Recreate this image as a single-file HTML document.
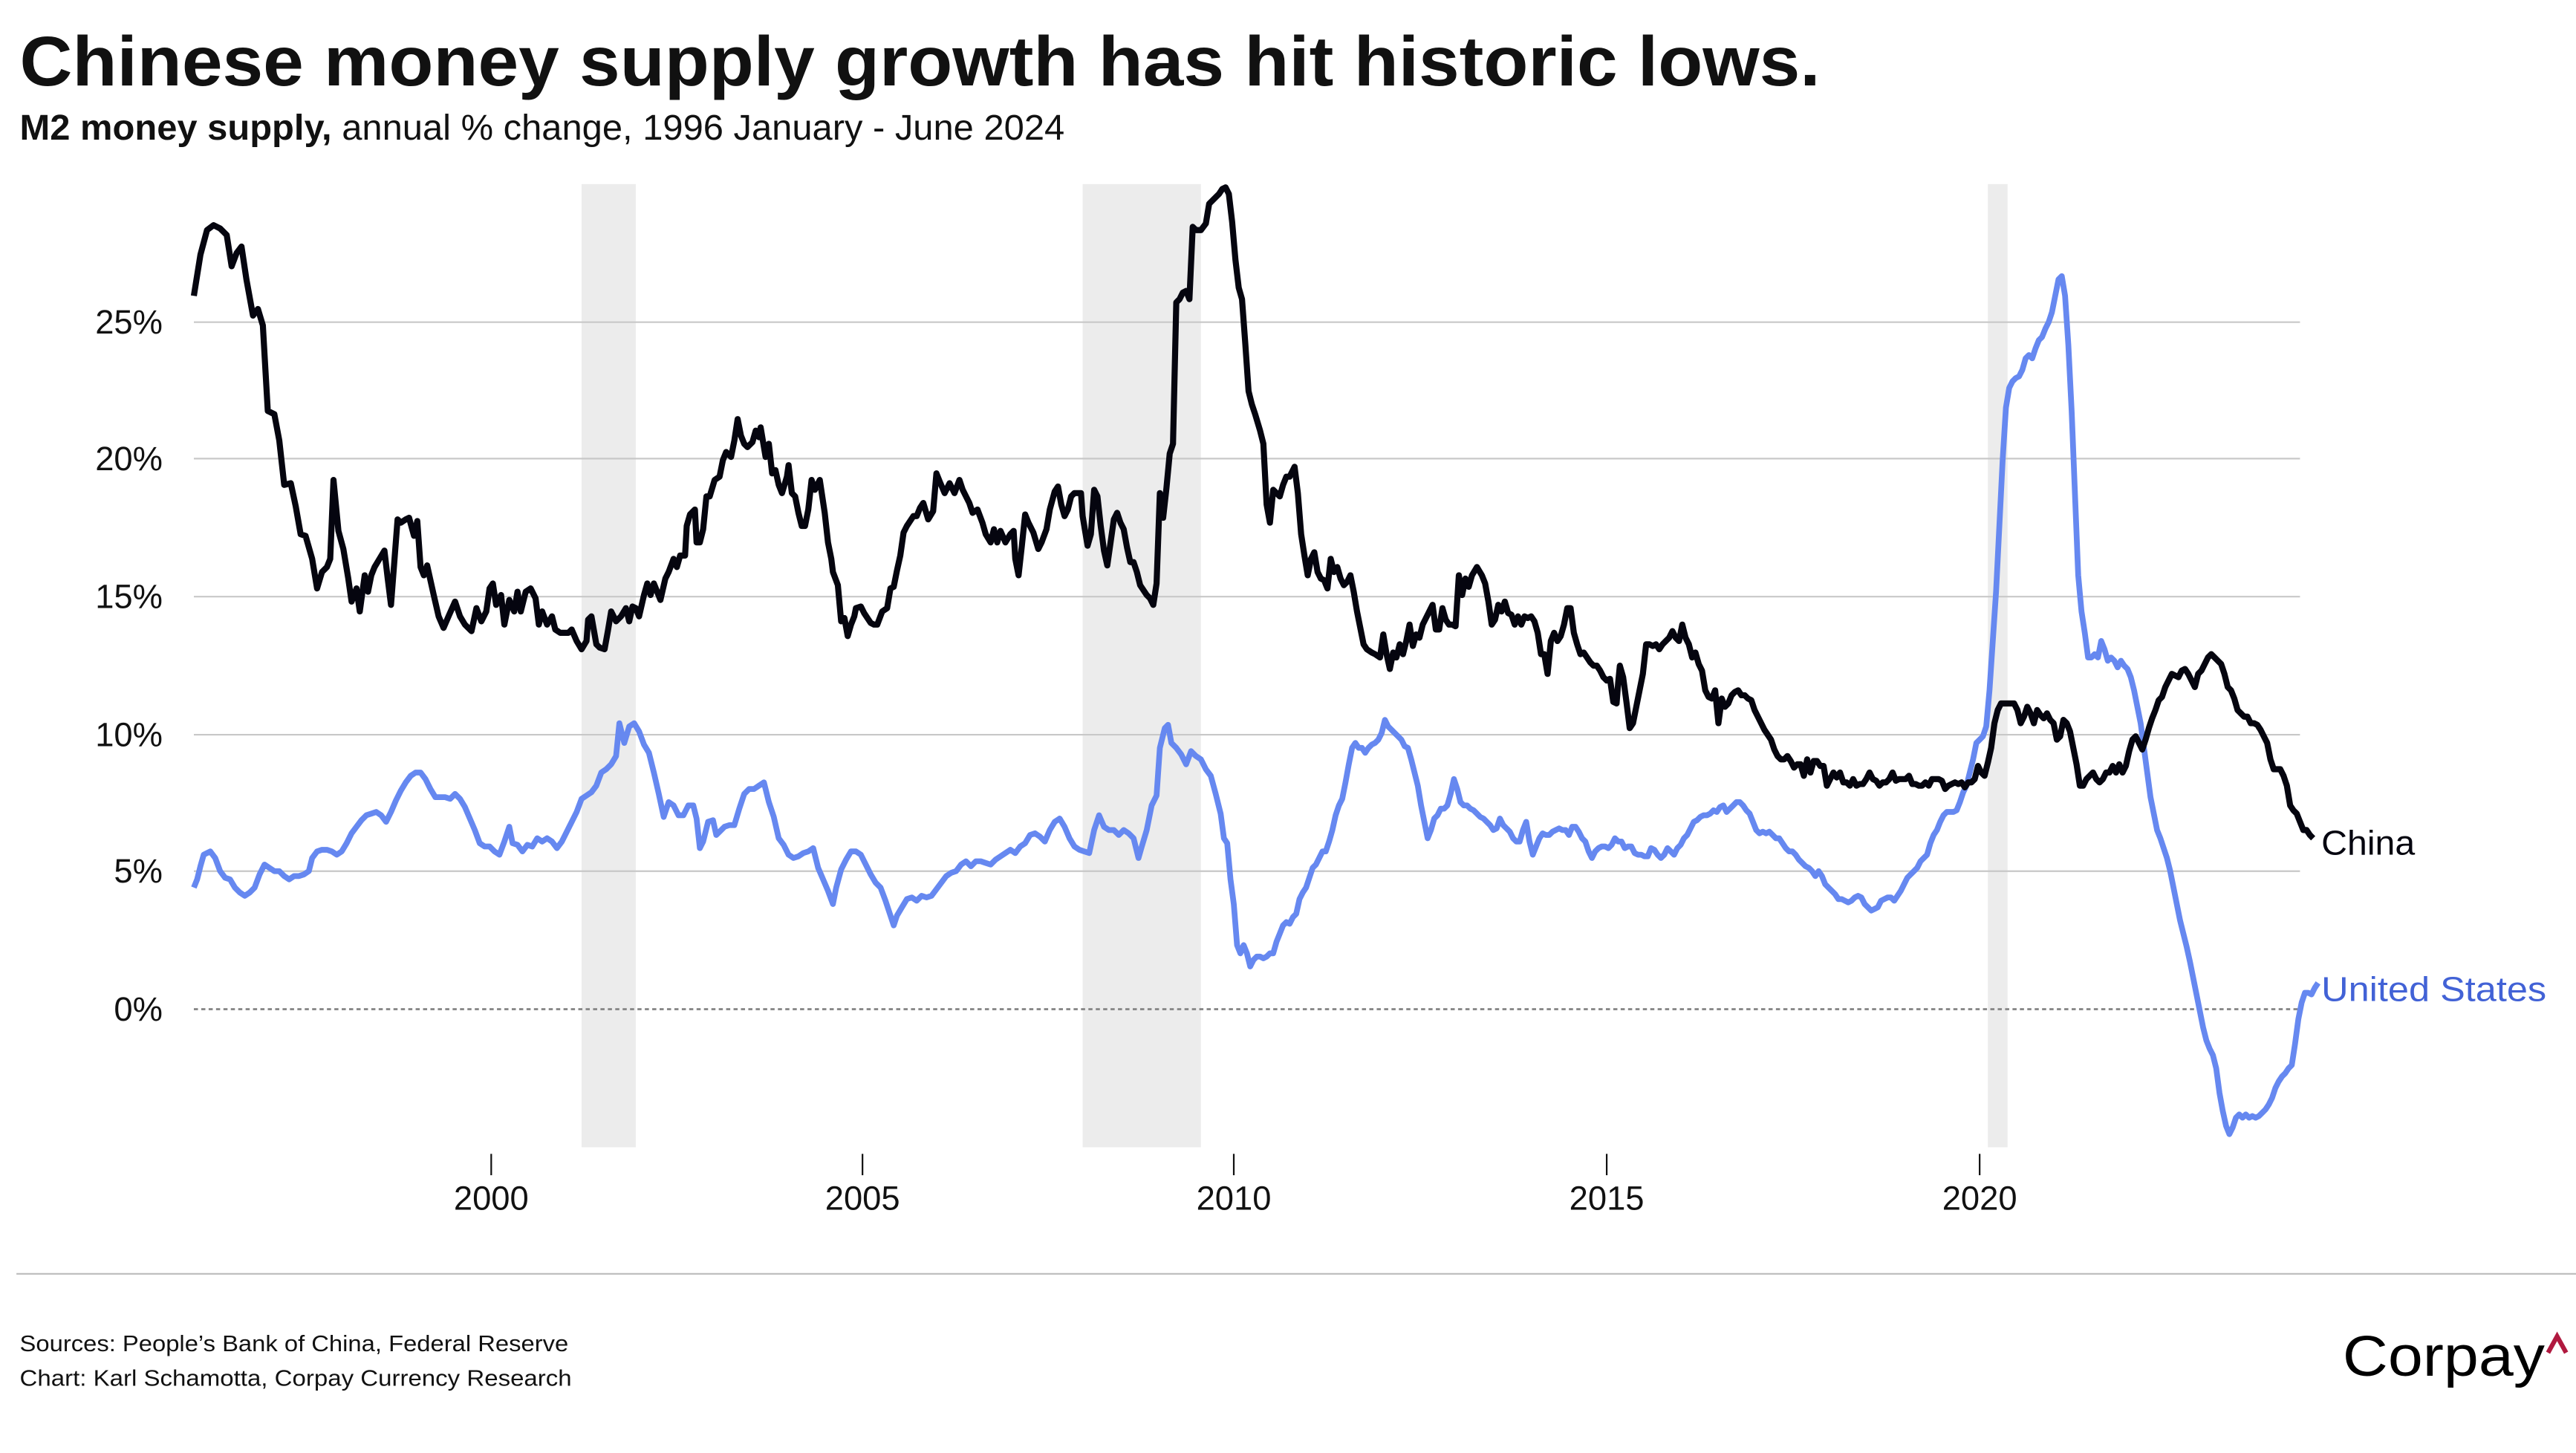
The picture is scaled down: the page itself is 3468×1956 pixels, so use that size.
<!DOCTYPE html>
<html><head><meta charset="utf-8"><style>
html,body{margin:0;padding:0;background:#fff;}
svg{display:block;}
text{font-family:"Liberation Sans",sans-serif;}
</style></head><body>
<svg width="3468" height="1956" viewBox="0 0 1568 884" preserveAspectRatio="none" xmlns="http://www.w3.org/2000/svg">
<rect width="1568" height="884" fill="#fff"/>
<text x="12" y="52" font-size="43" font-weight="bold" fill="#111" textLength="1096" lengthAdjust="spacingAndGlyphs">Chinese money supply growth has hit historic lows.</text>
<text x="12" y="85" font-size="22" fill="#111" textLength="636" lengthAdjust="spacingAndGlyphs"><tspan font-weight="bold">M2 money supply,</tspan> annual % change, 1996 January - June 2024</text>
<rect x="354" y="112" width="33" height="586" fill="#ececec"/>
<rect x="659" y="112" width="72" height="586" fill="#ececec"/>
<rect x="1210" y="112" width="12" height="586" fill="#ececec"/>
<g stroke="#c8c8c8" stroke-width="1">
<line x1="118" y1="196" x2="1400" y2="196"/>
<line x1="118" y1="279" x2="1400" y2="279"/>
<line x1="118" y1="363" x2="1400" y2="363"/>
<line x1="118" y1="447" x2="1400" y2="447"/>
<line x1="118" y1="530" x2="1400" y2="530"/>
</g>
<line x1="118" y1="614" x2="1400" y2="614" stroke="#888" stroke-width="1.3" stroke-dasharray="2.5,2"/>
<g font-size="20.5" fill="#111" text-anchor="end">
<text x="99" y="203">25%</text><text x="99" y="286">20%</text><text x="99" y="370">15%</text>
<text x="99" y="454">10%</text><text x="99" y="537">5%</text><text x="99" y="621">0%</text>
</g>
<g stroke="#111" stroke-width="1">
<line x1="299" y1="702" x2="299" y2="715"/><line x1="525" y1="702" x2="525" y2="715"/>
<line x1="751" y1="702" x2="751" y2="715"/><line x1="978" y1="702" x2="978" y2="715"/>
<line x1="1205" y1="702" x2="1205" y2="715"/>
</g>
<g font-size="20.5" fill="#111" text-anchor="middle">
<text x="299" y="736">2000</text><text x="525" y="736">2005</text><text x="751" y="736">2010</text>
<text x="978" y="736">2015</text><text x="1205" y="736">2020</text>
</g>
<polyline fill="none" stroke="#6688f0" stroke-width="3.5" stroke-linejoin="round" points="118,540 120,535 122,527 124,520 128,518 131,522 134,530 137,534 140,535 143,540 146,543 149,545 152,543 155,540 158,532 161,526 164,528 167,530 170,530 173,533 176,535 179,533 182,533 185,532 188,530 190,522 193,518 196,517 199,517 202,518 205,520 208,518 211,513 214,507 217,503 220,499 223,496 226,495 229,494 232,496 235,500 238,494 241,487 244,481 247,476 250,472 253,470 256,470 259,474 262,480 265,485 268,485 271,485 274,486 277,483 280,486 283,491 286,498 289,505 292,513 295,515 298,515 301,518 304,520 307,512 310,503 312,513 315,514 318,518 321,514 324,515 327,510 330,512 333,510 336,512 339,516 342,512 345,506 348,500 351,494 354,486 357,484 360,482 363,478 366,470 369,468 372,465 375,460 377,440 380,452 383,442 386,440 389,445 392,453 395,458 398,470 401,483 404,497 407,488 410,490 413,496 416,496 419,490 422,490 424,498 426,516 428,512 431,500 434,499 436,508 438,506 441,503 444,502 447,502 450,492 453,483 456,480 459,480 462,478 465,476 468,488 471,497 474,510 477,514 480,520 483,522 486,521 489,519 492,518 495,516 498,528 501,535 504,542 507,550 509,540 512,529 515,523 518,518 521,518 524,520 527,526 530,532 533,537 536,540 539,548 542,557 544,563 546,557 549,552 552,547 555,546 558,548 561,545 564,546 567,545 570,541 573,537 576,533 579,531 582,530 585,526 588,524 591,527 594,524 597,524 600,525 603,526 606,523 609,521 612,519 615,517 618,519 621,515 624,513 627,508 630,507 633,509 636,512 639,505 642,500 645,498 648,503 651,510 654,515 657,517 660,518 663,519 666,505 669,496 672,503 675,505 678,505 681,508 684,505 687,507 690,510 693,522 695,515 698,505 701,490 704,484 706,455 709,443 711,441 713,452 716,455 719,459 722,465 725,457 728,460 731,462 734,468 737,472 740,483 743,495 745,510 747,513 749,535 751,550 753,575 755,580 757,575 759,580 761,588 763,584 765,582 767,582 769,583 771,582 773,580 775,580 777,573 779,568 781,563 783,561 785,562 787,558 789,556 791,547 793,543 795,540 797,534 799,528 801,526 803,522 805,518 807,518 809,512 811,505 813,496 815,490 817,486 819,476 821,465 823,455 825,452 827,455 829,455 831,458 833,455 835,453 837,452 839,450 841,446 843,438 845,442 847,444 849,446 851,448 853,450 855,454 857,455 859,462 861,470 863,478 865,490 867,500 869,510 871,505 873,498 875,496 877,492 879,492 881,490 883,483 885,474 887,480 889,488 891,490 893,490 895,492 897,493 899,495 901,497 903,498 905,500 907,502 909,505 911,504 913,498 915,502 917,504 919,506 921,510 923,512 925,512 927,505 929,500 931,512 933,520 935,515 937,510 939,507 941,508 943,508 945,506 947,505 949,504 951,505 953,505 955,508 957,503 959,503 961,506 963,510 965,512 967,518 969,522 971,518 973,516 975,515 977,515 979,516 981,514 983,510 985,512 987,512 989,516 991,515 993,515 995,519 997,520 999,520 1001,521 1003,521 1005,516 1007,517 1009,520 1011,522 1013,520 1015,516 1017,518 1019,520 1021,516 1023,514 1025,510 1027,508 1029,504 1031,500 1033,499 1035,497 1037,496 1039,496 1041,495 1043,493 1045,494 1047,491 1049,490 1051,494 1053,492 1055,490 1057,488 1059,488 1061,490 1063,493 1065,495 1067,500 1069,505 1071,507 1073,506 1075,507 1077,506 1079,508 1081,510 1083,510 1085,513 1087,516 1089,518 1091,518 1093,520 1095,523 1097,525 1099,527 1101,528 1103,530 1105,533 1107,530 1109,533 1111,538 1113,540 1115,542 1117,544 1119,547 1121,547 1123,548 1125,549 1127,548 1129,546 1131,545 1133,546 1135,550 1137,552 1139,554 1141,553 1143,552 1145,548 1147,547 1149,546 1151,546 1153,548 1155,545 1157,542 1159,538 1161,534 1163,532 1165,530 1167,528 1169,524 1171,522 1173,520 1175,513 1177,508 1179,505 1181,500 1183,496 1185,494 1187,494 1189,494 1191,493 1193,488 1195,482 1197,478 1199,470 1201,462 1203,452 1205,450 1207,448 1209,442 1211,420 1213,390 1215,360 1217,320 1219,280 1221,248 1223,236 1225,232 1227,230 1229,229 1231,225 1233,218 1235,216 1237,218 1239,212 1241,207 1243,205 1245,200 1247,196 1249,190 1251,180 1253,170 1255,168 1257,180 1259,210 1261,250 1263,300 1265,350 1267,372 1269,385 1271,400 1273,400 1275,398 1277,400 1279,390 1281,395 1283,402 1285,400 1287,402 1289,406 1291,402 1293,405 1295,407 1297,412 1299,420 1301,430 1303,440 1305,455 1307,470 1309,485 1311,495 1313,505 1315,510 1317,516 1319,522 1321,530 1323,540 1325,550 1327,560 1329,568 1331,576 1333,585 1335,595 1337,605 1339,615 1341,625 1343,633 1345,638 1347,642 1349,650 1351,665 1353,676 1355,685 1357,690 1359,686 1361,680 1363,678 1365,680 1367,678 1369,680 1371,679 1373,680 1375,679 1377,677 1379,675 1381,672 1383,668 1385,662 1387,658 1389,655 1391,653 1393,650 1395,648 1397,635 1399,620 1401,610 1403,604 1405,604 1407,605 1409,601 1411,598"/>
<polyline fill="none" stroke="#05050f" stroke-width="3.7" stroke-linejoin="round" points="118,180 122,155 126,140 130,137 134,139 138,143 141,162 144,154 147,150 150,170 154,192 157,188 160,198 163,250 167,252 170,268 173,295 177,294 180,308 183,325 186,326 190,340 193,358 196,348 199,345 201,340 203,292 206,323 209,334 212,352 214,366 217,358 219,372 222,350 224,360 226,350 228,345 231,340 234,335 236,352 238,368 240,342 242,316 244,318 247,316 249,315 252,326 254,317 256,345 258,350 260,344 264,362 267,375 270,382 273,375 277,366 280,375 283,380 287,384 290,370 293,378 296,372 298,358 300,355 302,368 305,362 307,380 310,365 313,372 315,360 317,372 320,360 323,358 326,364 328,380 330,372 333,380 336,375 338,383 341,385 344,385 346,385 348,383 351,390 354,395 357,390 358,377 360,375 363,392 365,394 368,395 370,384 372,372 375,378 378,375 381,370 383,378 385,369 387,370 389,375 392,362 394,355 396,362 398,355 400,360 402,365 405,352 407,348 410,340 412,345 414,338 417,338 418,320 420,313 423,310 424,330 426,330 428,322 430,302 432,302 435,292 438,290 440,280 442,275 445,278 447,268 449,255 451,265 453,270 455,272 458,269 460,262 462,266 463,260 466,278 468,270 470,288 472,286 474,295 476,300 479,290 480,283 482,300 484,302 486,312 488,320 490,320 492,310 494,292 496,298 499,292 502,312 504,330 506,340 507,348 510,356 512,378 514,376 516,387 518,380 520,375 521,370 524,369 526,373 528,376 530,379 532,380 534,380 537,372 540,370 542,358 544,357 546,347 548,338 550,324 552,320 554,317 556,314 558,314 560,309 562,306 565,316 568,311 570,288 572,293 575,300 578,294 581,300 584,292 586,298 590,306 592,312 595,310 598,318 600,325 603,330 605,322 607,330 609,323 612,330 615,325 617,323 618,340 620,350 622,332 624,313 626,318 629,324 632,334 634,330 637,322 639,310 642,299 644,296 646,307 648,314 650,310 652,302 654,300 658,300 659,314 662,332 664,325 666,298 668,302 670,320 672,335 674,344 676,330 678,316 680,312 682,318 684,322 686,333 688,342 690,342 692,348 694,356 698,362 700,364 702,368 704,355 706,300 708,315 710,297 712,276 714,270 716,184 718,182 720,178 722,177 724,182 726,138 728,140 731,140 734,136 736,124 740,120 742,118 744,115 746,114 748,118 750,135 752,158 754,175 756,182 758,209 760,238 762,246 764,252 767,262 769,270 771,307 773,318 775,298 777,300 779,302 781,295 783,290 785,290 788,284 790,300 792,325 794,338 796,350 798,340 800,336 802,348 804,352 806,353 808,358 810,340 812,348 814,345 816,352 818,356 820,354 822,350 824,360 826,372 828,382 830,392 832,395 835,397 837,398 840,400 842,386 844,398 846,407 848,397 850,400 852,392 854,398 856,390 858,380 860,393 862,386 864,388 866,380 868,376 870,372 872,368 874,383 876,383 878,370 880,377 882,380 884,380 886,381 888,350 890,362 892,352 894,357 896,350 899,345 902,350 904,355 906,366 908,380 910,377 912,368 914,372 916,366 918,373 920,374 922,380 924,375 926,380 928,375 930,376 932,375 934,378 936,385 938,398 940,398 942,410 944,390 946,385 948,390 950,387 952,380 954,370 956,370 958,385 960,392 962,398 964,397 966,400 968,403 970,405 972,405 974,408 976,412 978,414 980,413 982,427 984,428 985,415 986,405 988,412 990,427 992,443 994,440 996,430 998,420 1000,410 1002,392 1004,392 1006,393 1008,392 1010,395 1012,392 1014,390 1016,388 1018,384 1020,388 1022,390 1024,380 1026,388 1028,392 1030,400 1032,397 1034,404 1036,408 1038,420 1040,424 1042,425 1044,420 1046,440 1048,425 1050,430 1052,428 1054,423 1056,421 1058,420 1060,423 1062,423 1064,425 1066,426 1068,432 1070,436 1072,440 1074,444 1076,447 1078,450 1080,456 1082,460 1084,462 1086,462 1088,460 1090,463 1092,467 1094,465 1096,465 1098,472 1100,462 1102,470 1104,463 1106,463 1108,466 1110,466 1112,478 1114,474 1116,470 1118,473 1120,470 1122,476 1124,476 1126,478 1128,474 1130,478 1132,477 1134,477 1136,474 1138,470 1140,474 1142,475 1144,478 1146,476 1148,476 1150,474 1152,470 1154,475 1156,474 1158,474 1160,474 1162,472 1164,477 1166,477 1168,478 1170,478 1172,476 1174,478 1176,474 1178,474 1180,474 1182,475 1184,480 1186,478 1188,477 1190,476 1192,477 1194,476 1196,479 1198,476 1200,476 1202,474 1204,466 1206,470 1208,472 1210,464 1212,455 1214,440 1216,432 1218,428 1220,428 1222,428 1224,428 1226,428 1228,432 1230,440 1232,436 1234,430 1236,434 1238,440 1240,432 1242,435 1244,437 1246,434 1248,438 1250,440 1252,450 1254,448 1256,438 1258,440 1260,445 1262,455 1264,465 1266,478 1268,478 1270,474 1272,472 1274,470 1276,474 1278,476 1280,474 1282,470 1284,470 1286,466 1288,470 1290,465 1292,470 1294,466 1296,457 1298,450 1300,448 1302,452 1304,456 1306,450 1308,443 1310,437 1312,432 1314,426 1316,424 1318,418 1320,414 1322,410 1324,411 1326,412 1328,408 1330,407 1332,410 1334,414 1336,418 1338,410 1340,408 1342,404 1344,400 1346,398 1348,400 1350,402 1352,404 1354,410 1356,418 1358,420 1360,425 1362,432 1364,434 1366,436 1368,436 1370,440 1372,440 1374,441 1376,444 1378,448 1380,452 1382,462 1384,468 1386,468 1388,468 1390,472 1392,478 1394,490 1396,493 1398,495 1400,500 1402,505 1404,505 1406,508 1408,510"/>
<text x="1413" y="520" font-size="21" fill="#05050f" textLength="57" lengthAdjust="spacingAndGlyphs">China</text>
<text x="1413" y="609" font-size="21" fill="#4262d6" textLength="137" lengthAdjust="spacingAndGlyphs">United States</text>
<line x1="10" y1="775" x2="1568" y2="775" stroke="#bbb" stroke-width="1"/>
<text x="12" y="822" font-size="14" fill="#111" textLength="334" lengthAdjust="spacingAndGlyphs">Sources: People’s Bank of China, Federal Reserve</text>
<text x="12" y="843" font-size="14" fill="#111" textLength="336" lengthAdjust="spacingAndGlyphs">Chart: Karl Schamotta, Corpay Currency Research</text>
<text x="1426" y="837" font-size="35" fill="#000" textLength="123" lengthAdjust="spacingAndGlyphs">Corpay</text>
<polyline points="1551,823 1556.5,813 1562,823" fill="none" stroke="#b0193f" stroke-width="2.8"/>
</svg>
</body></html>
